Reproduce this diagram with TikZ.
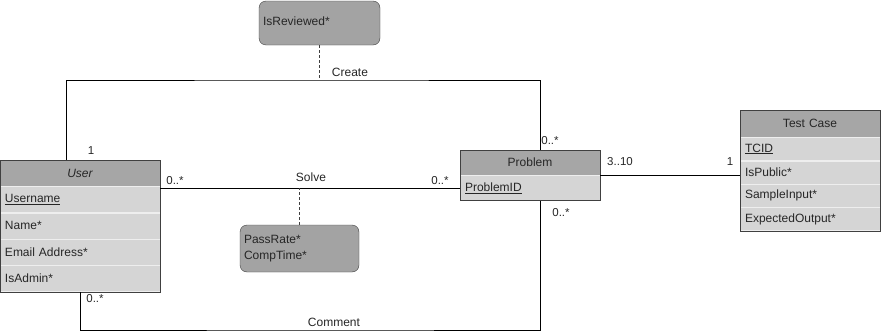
\documentclass[tikz,border=0pt]{standalone}
\usepackage{fontspec}
\setmainfont{Liberation Sans}
\usepackage{tikz}
\usetikzlibrary{positioning}
\definecolor{HeadGray}{HTML}{A6A6A6}
\definecolor{RowGray}{HTML}{D5D5D5}
\definecolor{RowLine}{HTML}{EEEEEE}
\definecolor{NoteGray}{HTML}{A3A3A3}
\definecolor{EdgeGray}{HTML}{404040}
\definecolor{InkGray}{HTML}{262626}

\begin{document}
\begin{tikzpicture}[
      x=1pt, y=-1pt,
      every node/.style={font=\fontsize{12}{14}\selectfont, text=InkGray, inner sep=0pt},
      classhead/.style 2 args={draw=EdgeGray, fill=HeadGray, text width=#1, inner xsep=5pt, minimum height=#2, align=center},
      attr/.style 2 args={draw=RowLine, fill=RowGray, text width=#1, inner xsep=5pt, minimum height=#2, align=left},
      note/.style 2 args={draw=EdgeGray, fill=NoteGray, rounded corners=7pt, text width=#1, inner xsep=4pt, minimum height=#2, align=left},
      assoc/.style={black, line width=0.8pt},
      link/.style={EdgeGray, dash pattern=on 3pt off 2pt, line width=0.8pt},
      mult/.style={font=\fontsize{11.5}{13}\selectfont}
    ]
      \useasboundingbox (0,0) rectangle (881,332);

      % User
      \node[classhead={150pt}{26pt}] (user) at (80,173) {\itshape User};
      \node[attr={150pt}{26pt}, below=0pt of user] (username) {\underline{Username}};
      \node[attr={150pt}{26pt}, below=0pt of username] (name) {Name*};
      \node[attr={150pt}{26pt}, below=0pt of name] (email) {Email Address*};
      \node[attr={150pt}{26pt}, below=0pt of email] (isadmin) {IsAdmin*};
      \draw[EdgeGray] (user.north west) rectangle (isadmin.south east);

      % Problem
      \node[classhead={130pt}{25pt}] (problem) at (530,162.5) {Problem};
      \node[attr={130pt}{25pt}, below=0pt of problem] (problemid) {\underline{ProblemID}};
      \draw[EdgeGray] (problem.north west) rectangle (problemid.south east);

      % Test Case
      \node[classhead={130pt}{27pt}] (testcase) at (810,123.5) {Test Case};
      \node[attr={130pt}{23pt}, below=0pt of testcase] (tcid) {\underline{TCID}};
      \node[attr={130pt}{23pt}, below=0pt of tcid] (ispublic) {IsPublic*};
      \node[attr={130pt}{23pt}, below=0pt of ispublic] (sampleinput) {SampleInput*};
      \node[attr={130pt}{23pt}, below=0pt of sampleinput] (expectedoutput) {ExpectedOutput*};
      \draw[EdgeGray] (testcase.north west) rectangle (expectedoutput.south east);

      % relationship attributes
      \node[note={113pt}{44pt}] (reviewed) at (319.5,23) {\raisebox{3pt}{IsReviewed*}};
      \node[note={111pt}{47pt}, font=\fontsize{12}{16}\selectfont] (solvestats) at (299.5,248.5) {PassRate*\\CompTime*};

      \coordinate (createmid) at (319.5,80);
      \coordinate (commentmid) at (330,330);

      % associations
      \draw[assoc] ([xshift=-14pt]user.north) |- (createmid) -| ([xshift=10pt]problem.north);
      \draw[assoc] (user.east |- problemid.west) -- (problemid.west);
      \draw[assoc] (problem.south east) -- (testcase.west |- problem.south east);
      \draw[assoc] ([xshift=10pt]problemid.south) |- (commentmid) -| (isadmin.south);
      \draw[link] (reviewed) -- (createmid);
      \draw[link] (solvestats) -- (solvestats.north |- problemid.west);

      % labels
      \node (create) at (350,72) {Create};
      \node (solve) at (311,177) {Solve};
      \node (comment) at (334,322) {Comment};
      \node[mult] (m1) at (91,151) {1};
      \node[mult] (m2) at (550,141) {0..*};
      \node[mult] (m3) at (175,181) {0..*};
      \node[mult] (m4) at (440,181) {0..*};
      \node[mult] (m5) at (620,162) {3..10};
      \node[mult] (m6) at (730,162) {1};
      \node[mult] (m7) at (95,299) {0..*};
      \node[mult] (m8) at (561,213) {0..*};

    \end{tikzpicture}
\end{document}
